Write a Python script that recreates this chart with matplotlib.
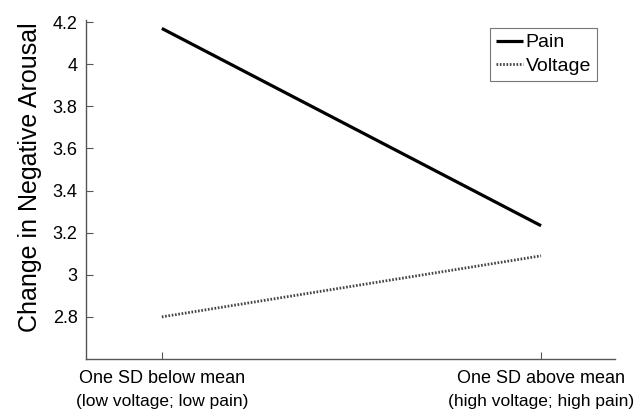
import matplotlib
matplotlib.use("Agg")
import matplotlib.pyplot as plt

categories = ["One SD below mean", "One SD above mean"]
sublabels = ["(low voltage; low pain)", "(high voltage; high pain)"]
pain = [4.17, 3.233]
voltage = [2.80, 3.09]
yticks = [2.8, 3.0, 3.2, 3.4, 3.6, 3.8, 4.0, 4.2]
yticklabels = ["2.8", "3", "3.2", "3.4", "3.6", "3.8", "4", "4.2"]

plt.rcParams['font.family'] = ['Liberation Sans', 'DejaVu Sans']

fig = plt.figure(figsize=(6.39, 4.09), dpi=100)
ax = fig.add_axes([86/639, 1 - 359/409, (615-86)/639, (359-20)/409])

x = [1, 2]
ax.plot(x, pain, color='black', lw=2.3, solid_capstyle='butt', label='Pain')
ax.plot(x, voltage, color='#444444', lw=2.0, linestyle=(0, (0.6, 0.6)), label='Voltage')

ax.set_xlim(0.80, 2.195)
ax.set_ylim(2.60, 4.21)
ax.set_yticks(yticks)
ax.set_yticklabels(yticklabels, fontsize=13)
ax.set_xticks(x)
ax.set_xticklabels(categories, fontsize=13)
for xi, s in zip(x, sublabels):
    ax.text(xi, -0.125, s, transform=ax.get_xaxis_transform(), ha='center', va='center', fontsize=12.5)

for side in ['top', 'right']:
    ax.spines[side].set_visible(False)
for side in ['left', 'bottom']:
    ax.spines[side].set_color('#555555')
    ax.spines[side].set_linewidth(1.0)
ax.tick_params(direction='in', length=5, width=0.8, color='#555555', pad=6)
ax.tick_params(axis='x', pad=8)

ax.set_ylabel("Change in Negative Arousal", fontsize=18)
ax.yaxis.set_label_coords(-44/529, (359-177)/339)

leg = ax.legend(loc='upper right', bbox_to_anchor=((597-86)/529, (359-28)/339),
                fontsize=14, frameon=True, fancybox=False, handlelength=1.4,
                handletextpad=0.15, borderpad=0.3, labelspacing=0.3, borderaxespad=0)
leg.get_frame().set_edgecolor('#555555')
leg.get_frame().set_linewidth(0.8)

fig.savefig("out.png", dpi=100)
